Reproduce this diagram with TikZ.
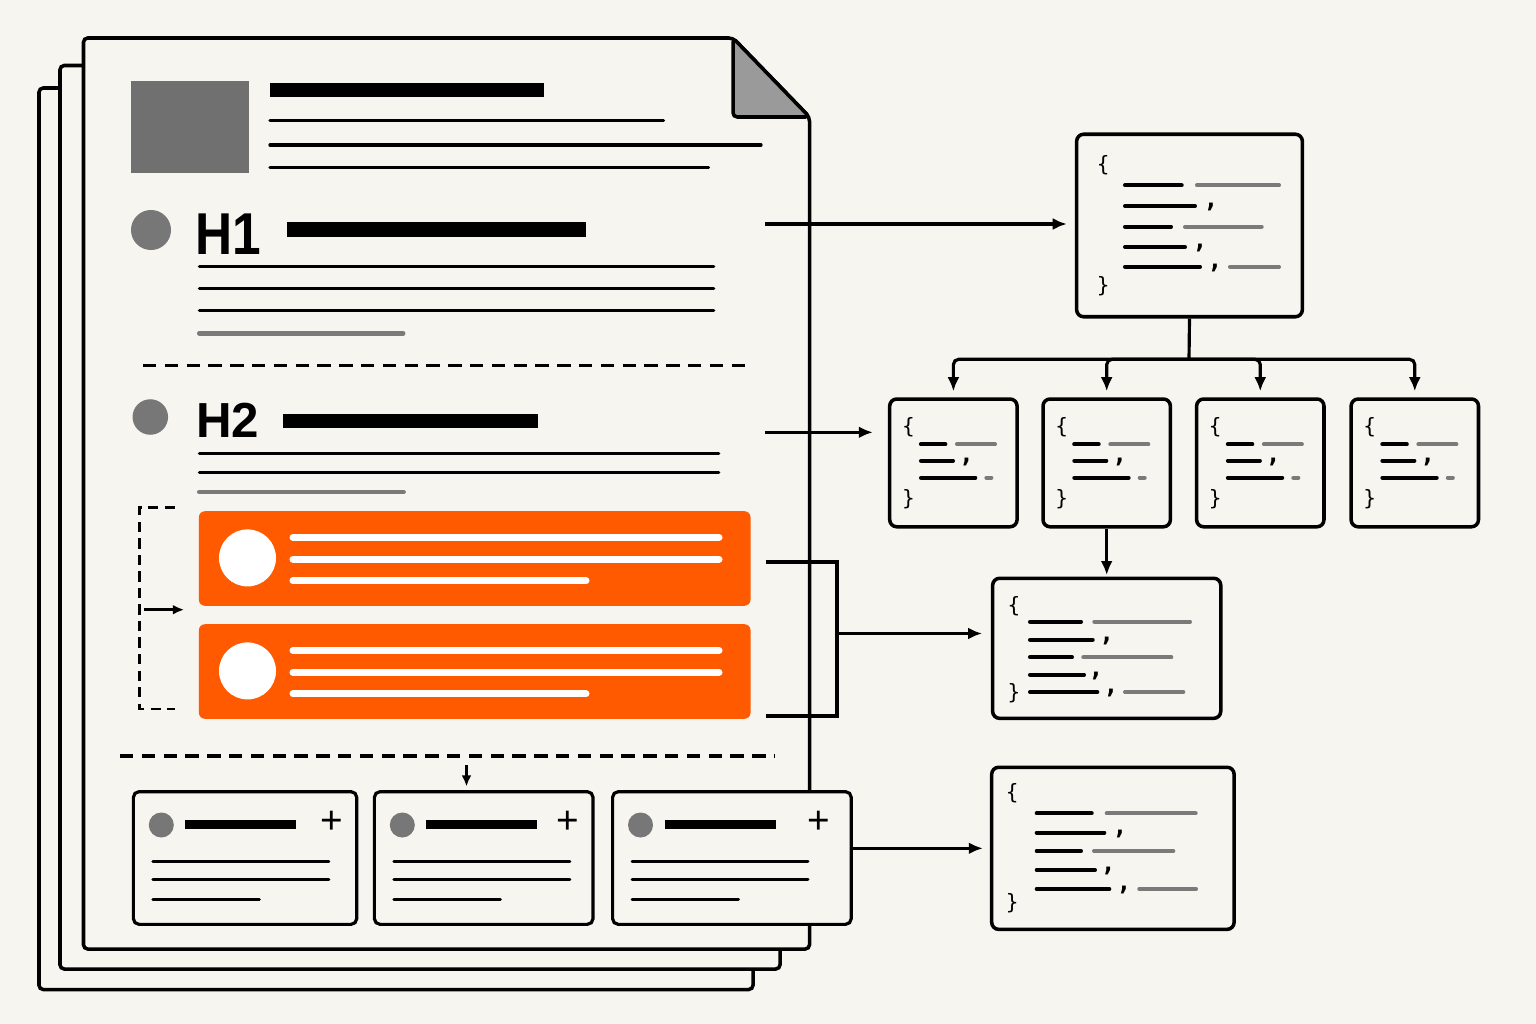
\documentclass[tikz,border=0pt]{standalone}
\usepackage{graphicx}
\usepackage{fontspec}
\setsansfont{Liberation Sans}
\newfontfamily\codefont{DejaVu Sans Mono}
\usetikzlibrary{arrows.meta}

\definecolor{paper}{HTML}{F7F5F0}
\definecolor{accent}{HTML}{FF5A00}
\definecolor{midgray}{HTML}{7A7A7A}
\definecolor{boxgray}{HTML}{707070}
\definecolor{dotgray}{HTML}{777777}
\definecolor{foldgray}{HTML}{9A9A9A}

\tikzset{
  page/.style={draw=black, line width=1pt, fill=paper, rounded corners=1.2pt},
  headbar/.style={line width=4.1pt},
  txtline/.style={line width=0.95pt, line cap=round},
  grayline/.style={line width=1.4pt, line cap=round, draw=midgray},
  sepdash/.style={line width=0.95pt, dash pattern=on 3.8pt off 2.4pt},
  grpdash/.style={line width=0.75pt, dash pattern=on 2.9pt off 1.8pt},
  bullet/.style={circle, fill=dotgray, inner sep=0pt},
  hfont/.style={font=\sffamily\bfseries, inner sep=0pt, anchor=base west},
  itembox/.style={fill=accent, rounded corners=1.7pt, inner sep=0pt,
    minimum width=5.513cm, minimum height=0.945cm},
  itemdot/.style={circle, fill=white, inner sep=0pt, minimum size=0.57cm},
  itemline/.style={line width=2pt, line cap=round, draw=white},
  cardbox/.style={draw, line width=0.9pt, fill=paper, rounded corners=1.6pt,
    inner sep=0pt, minimum height=1.326cm},
  cardbar/.style={line width=2.65pt},
  cardline/.style={line width=0.85pt, line cap=round},
  plus/.style={font=\sffamily\fontsize{11}{12}\selectfont, inner sep=0pt},
  jsonbox/.style={draw, line width=1pt, fill=paper, rounded corners=2pt, inner sep=0pt},
  keyline/.style={line width=1.15pt, line cap=round},
  valline/.style={keyline, draw=midgray},
  brace/.style={font=\codefont\fontsize{6}{7}\selectfont, inner sep=0pt},
  jcomma/.style={font=\codefont\bfseries\fontsize{7}{8}\selectfont, inner sep=0pt},
  conn/.style={line width=0.9pt},
  arr/.style={conn, -{Latex[length=4pt,width=3.4pt]}},
  smallarr/.style={line width=0.75pt, -{Latex[length=3.2pt,width=2.8pt]}},
}

\newcommand{\jn}{\node[jsonbox]}
\newcommand{\txln}[3]{\draw[txtline] (#1,#3) -- (#2,#3);}
\newcommand{\keyln}[3]{\draw[keyline] (#1,#3) -- (#2,#3);}
\newcommand{\valln}[3]{\draw[valline] (#1,#3) -- (#2,#3);}

\begin{document}
\begin{tikzpicture}[x=0.01cm, y=-0.01cm]
    \useasboundingbox (0,0) rectangle (1536,1024);
    \fill[paper] (0,0) rectangle (1536,1024);

    % stacked pages
    \draw[page] (39,88) rectangle (753,989.5);
    \draw[page] (60,65.5) rectangle (780,969);
    \fill[paper] (733,36) -- (812,36) -- (812,117) -- cycle;
    \draw[page] (83.5,38) -- (733,38) -- (809.5,117) -- (809.5,949) -- (83.5,949) -- cycle;
    \draw[page, fill=foldgray] (733,38) -- (733,117) -- (809.5,117) -- cycle;

    % header
    \fill[boxgray] (131,81) rectangle (249,172.7);
    \draw[headbar] (270,90.2) -- (544,90.2);
    \txln{270}{663.5}{120.7}
    \txln{270}{761}{145}
    \txln{270}{708.5}{167.3}

    % H1
    \node[bullet, minimum size=0.4cm] (h1dot) at (151,230) {};
    \node[hfont] (h1) at (194.3,254) {\fontsize{16.8}{18}\selectfont\scalebox{0.87}[1]{H1}};
    \draw[headbar] (286.6,229.7) -- (585.6,229.7);
    \txln{199.4}{713.7}{266.7}
    \txln{199.4}{713.7}{288.7}
    \txln{199.4}{713.7}{310.7}
    \draw[grayline] (199.4,333.3) -- (403,333.3);
    \draw[sepdash] (143,365.7) -- (751,365.7);

    % H2
    \node[bullet, minimum size=0.355cm] (h2dot) at (150.3,417) {};
    \node[hfont] (h2) at (195.4,437) {\fontsize{14}{16}\selectfont H2};
    \draw[headbar, line width=3.85pt] (283,421) -- (537.6,421);
    \txln{199.4}{718.7}{453.7}
    \txln{199.4}{718.7}{472.3}
    \draw[grayline] (199.4,492) -- (403.5,492);

    % repeated items
    \foreach \i/\y in {1/558.5, 2/671.5} {
        \node[itembox] (o\i) at (474.7,\y) {};
        \node[itemdot] (od\i) at (247.5,\y-0.6) {};
        \draw[itemline] (293,\y-21) -- (719,\y-21);
        \draw[itemline] (293,\y+0.8) -- (719,\y+0.8);
        \draw[itemline] (293,\y+22.4) -- (586,\y+22.4);
    }
    \draw[grpdash] (175,507.7) -- (139.5,507.7) -- (139.5,709) -- (175,709);
    \coordinate (grp) at (144,609.7);
    \draw[smallarr, shorten >=4pt] (grp) -- (grp -| o1.west);

    \draw[sepdash] (120,756) -- (775,756);
    \coordinate (dn) at (466.5,765);

    % cards
    \foreach \i/\l/\w/\p in {1/131.8/2.232/331.7, 2/372.8/2.185/567.3, 3/611/2.385/819} {
        \node[cardbox, minimum width=\w cm, anchor=west] (c\i) at (\l,858) {};
        \node[bullet, minimum size=0.25cm] (cd\i) at (\l+29.5,825) {};
        \draw[cardbar] (\l+53.5,824.7) -- (\l+164.5,824.7);
        \node[plus] (cp\i) at (\p,822.3) {+};
        \draw[cardline] (\l+21,861) -- (\l+197,861);
        \draw[cardline] (\l+21,879.5) -- (\l+197,879.5);
        \draw[cardline] (\l+21,899.3) -- (\l+127.5,899.3);
    }
    \draw[smallarr, shorten >=1pt] (dn) -- (dn |- c2.north);

    % json: top object
    \jn[minimum width=2.256cm, minimum height=1.824cm] (top) at (1189.5,225.5) {};
    \node[brace] (tob) at (1103.3,165) {\{};
    \node[brace] (tcb) at (1103.3,286.7) {\}};
    \keyln{1125}{1181.7}{185.3} \valln{1197}{1279}{185.3}
    \keyln{1125}{1195}{206}
    \node[jcomma] (tc1) at (1211,207.5) {,};
    \keyln{1125}{1171}{226.7} \valln{1185}{1261.7}{226.7}
    \keyln{1125}{1185}{247}
    \node[jcomma] (tc2) at (1200,248.5) {,};
    \keyln{1125}{1200}{266.7} \valln{1230}{1279}{266.7}
    \node[jcomma] (tc3) at (1215,268.2) {,};

    % json: four children
    \coordinate (split) at (1189,359.3);
    \draw[conn] (top.south) -- (split);
    \foreach \i/\x in {1/953.4, 2/1106.7, 3/1260.3, 4/1414.8} {
        \jn[minimum width=1.273cm, minimum height=1.277cm] (s\i) at (\x,462.9) {};
        \node[brace] (sob\i) at (\x-45,427.5) {\{};
        \node[brace] (scb\i) at (\x-45,499) {\}};
        \keyln{\x-32.5}{\x-8}{444.3} \valln{\x+3.6}{\x+41.6}{444.3}
        \keyln{\x-32.4}{\x-0.4}{460.7}
        \node[jcomma] (sc\i) at (\x+13,462.2) {,};
        \keyln{\x-32.4}{\x+21.9}{477.7} \valln{\x+33}{\x+38}{477.7}
        \draw[arr, rounded corners=1.5pt, shorten >=1.7pt] (split) -| (s\i.north);
    }

    % json: merged items
    \jn[minimum width=2.28cm, minimum height=1.4cm] (mid) at (1106.7,648.3) {};
    \node[brace] (mob) at (1014,605.7) {\{};
    \node[brace] (mcb) at (1014,693) {\}};
    \keyln{1030}{1081}{621.7} \valln{1094.3}{1190}{621.7}
    \keyln{1030}{1092.7}{639.7}
    \node[jcomma] (mc1) at (1106.7,641.2) {,};
    \keyln{1030}{1072}{657.3} \valln{1083.3}{1171.3}{657.3}
    \keyln{1030}{1084}{674.7}
    \node[jcomma] (mc2) at (1096,676.2) {,};
    \keyln{1030}{1097.3}{692} \valln{1125}{1183.3}{692}
    \node[jcomma] (mc3) at (1111,693.5) {,};

    % json: cards
    \jn[minimum width=2.423cm, minimum height=1.62cm] (bot) at (1112.9,848.3) {};
    \node[brace] (bob) at (1012.3,792.7) {\{};
    \node[brace] (bcb) at (1012.3,903) {\}};
    \keyln{1036.7}{1091.7}{813.3} \valln{1106.7}{1195.7}{813.3}
    \keyln{1036.7}{1104.3}{832.7}
    \node[jcomma] (bc1) at (1120,834.2) {,};
    \keyln{1036.7}{1081}{851} \valln{1094}{1173.3}{851}
    \keyln{1036.7}{1095}{870}
    \node[jcomma] (bc2) at (1108.3,871.5) {,};
    \keyln{1036.7}{1109.3}{889} \valln{1139.3}{1196}{889}
    \node[jcomma] (bc3) at (1124,890.5) {,};

    % connectors
    \coordinate (h1out) at (765,224);
    \coordinate (h2out) at (765,432.3);
    \coordinate (o1out) at (766,562);
    \coordinate (o2out) at (766,716);
    \coordinate (merge) at (837,633.5);

    \draw[arr, shorten >=2.3pt] (h1out) -- (h1out -| top.west);
    \draw[arr, shorten >=4.3pt] (h2out) -- (h2out -| s1.west);
    \draw[arr, shorten >=0.4pt] (s2.south) -- (mid.north);
    \draw[conn] (o1out) -- (merge |- o1out) -- (merge |- o2out) -- (o2out);
    \draw[arr, shorten >=2.5pt] (merge) -- (merge -| mid.west);
    \draw[arr, shorten >=2pt] (c3.east |- bot.west) -- (bot.west);

\end{tikzpicture}
\end{document}
